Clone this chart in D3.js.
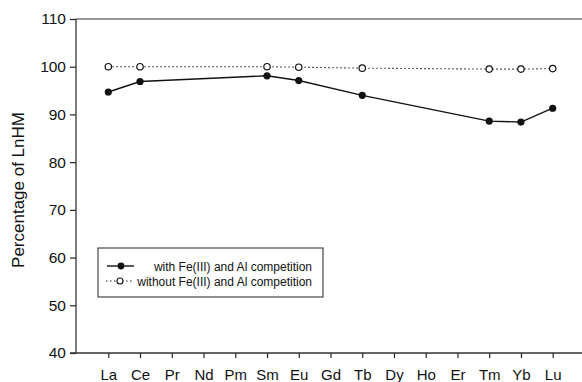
<!DOCTYPE html>
<html><head><meta charset="utf-8">
<script src="https://cdn.jsdelivr.net/npm/d3@7"></script>
<style>body{margin:0;background:#fff}svg{display:block}text{font-family:"Liberation Sans",Arial,sans-serif;fill:#111}</style>
</head><body><svg id="c" width="582" height="382"></svg>
<script>
const elements = ["La","Ce","Pr","Nd","Pm","Sm","Eu","Gd","Tb","Dy","Ho","Er","Tm","Yb","Lu"];
const measured = ["La","Ce","Sm","Eu","Tb","Tm","Yb","Lu"];
const withCompetition = [94.7, 96.9, 98.1, 97.1, 94.0, 88.6, 88.4, 91.3];
const withoutCompetition = [100.0, 100.0, 100.0, 99.9, 99.7, 99.5, 99.5, 99.6];
const yTicks = [40,50,60,70,80,90,100,110];
const seriesNames = ["with Fe(III) and Al competition","without Fe(III) and Al competition"];

const svg = d3.select("#c");
const x = d3.scalePoint().domain(elements).range([108.3, 552.7]);
const y = d3.scaleLinear().domain([40,110]).range([353,19]);
const xLeft = 76, xRight = 582;

// axes
const ya = svg.append("g").attr("transform",`translate(${xLeft},0)`)
  .call(d3.axisLeft(y).tickValues(yTicks).tickSize(6).tickPadding(4));
ya.select(".domain").remove();
ya.selectAll("line").attr("stroke","#222").attr("stroke-width",1.2);
ya.selectAll("text").style("font-size","15.5px").attr("fill","#111");
svg.append("line").attr("x1",xLeft).attr("x2",xLeft).attr("y1",y(110)).attr("y2",y(40)).attr("stroke","#333").attr("stroke-width",1.3);
svg.append("line").attr("x1",xLeft).attr("x2",xRight).attr("y1",y(110)).attr("y2",y(110)).attr("stroke","#333").attr("stroke-width",1.2);

const xa = svg.append("g").attr("transform",`translate(0,${y(40)})`)
  .call(d3.axisBottom(x).tickSize(5).tickPadding(11));
xa.select(".domain").remove();
xa.selectAll("line").attr("stroke","#222").attr("stroke-width",1.2);
xa.selectAll("text").style("font-size","15px").attr("fill","#111");
svg.append("line").attr("x1",xLeft-6).attr("x2",xRight).attr("y1",y(40)).attr("y2",y(40)).attr("stroke","#333").attr("stroke-width",1.3);

svg.append("text").attr("transform",`translate(24,190) rotate(-90)`).attr("text-anchor","middle")
  .style("font-size","17px").text("Percentage of LnHM");

// series
const line = d3.line().x(d=>x(d[0])).y(d=>y(d[1]));
const d2 = measured.map((e,i)=>[e,withoutCompetition[i]]);
const d1 = measured.map((e,i)=>[e,withCompetition[i]]);
svg.append("path").attr("d",line(d2)).attr("fill","none").attr("stroke","#222").attr("stroke-width",1.1).attr("stroke-dasharray","1.5,2.5");
svg.append("path").attr("d",line(d1)).attr("fill","none").attr("stroke","#111").attr("stroke-width",1.4);
svg.selectAll(".o").data(d2).join("circle").attr("cx",d=>x(d[0])).attr("cy",d=>y(d[1])).attr("r",3.2).attr("fill","#fff").attr("stroke","#111").attr("stroke-width",1.2);
svg.selectAll(".f").data(d1).join("circle").attr("cx",d=>x(d[0])).attr("cy",d=>y(d[1])).attr("r",3.6).attr("fill","#111");

// legend
const lg = svg.append("g");
lg.append("rect").attr("x",98).attr("y",248).attr("width",225).attr("height",49).attr("fill","#fff").attr("stroke","#333").attr("stroke-width",1.1);
lg.append("line").attr("x1",107).attr("x2",134).attr("y1",266).attr("y2",266).attr("stroke","#111").attr("stroke-width",1.4);
lg.append("circle").attr("cx",121).attr("cy",266).attr("r",3.4).attr("fill","#111");
lg.append("line").attr("x1",106).attr("x2",133).attr("y1",281).attr("y2",281).attr("stroke","#222").attr("stroke-width",1.1).attr("stroke-dasharray","1.5,2.5");
lg.append("circle").attr("cx",120).attr("cy",281).attr("r",3).attr("fill","#fff").attr("stroke","#111").attr("stroke-width",1.1);
lg.append("text").attr("x",312).attr("y",270.5).attr("text-anchor","end").style("font-size","12px").text(seriesNames[0]);
lg.append("text").attr("x",312).attr("y",285.5).attr("text-anchor","end").style("font-size","12px").text(seriesNames[1]);
</script></body></html>
